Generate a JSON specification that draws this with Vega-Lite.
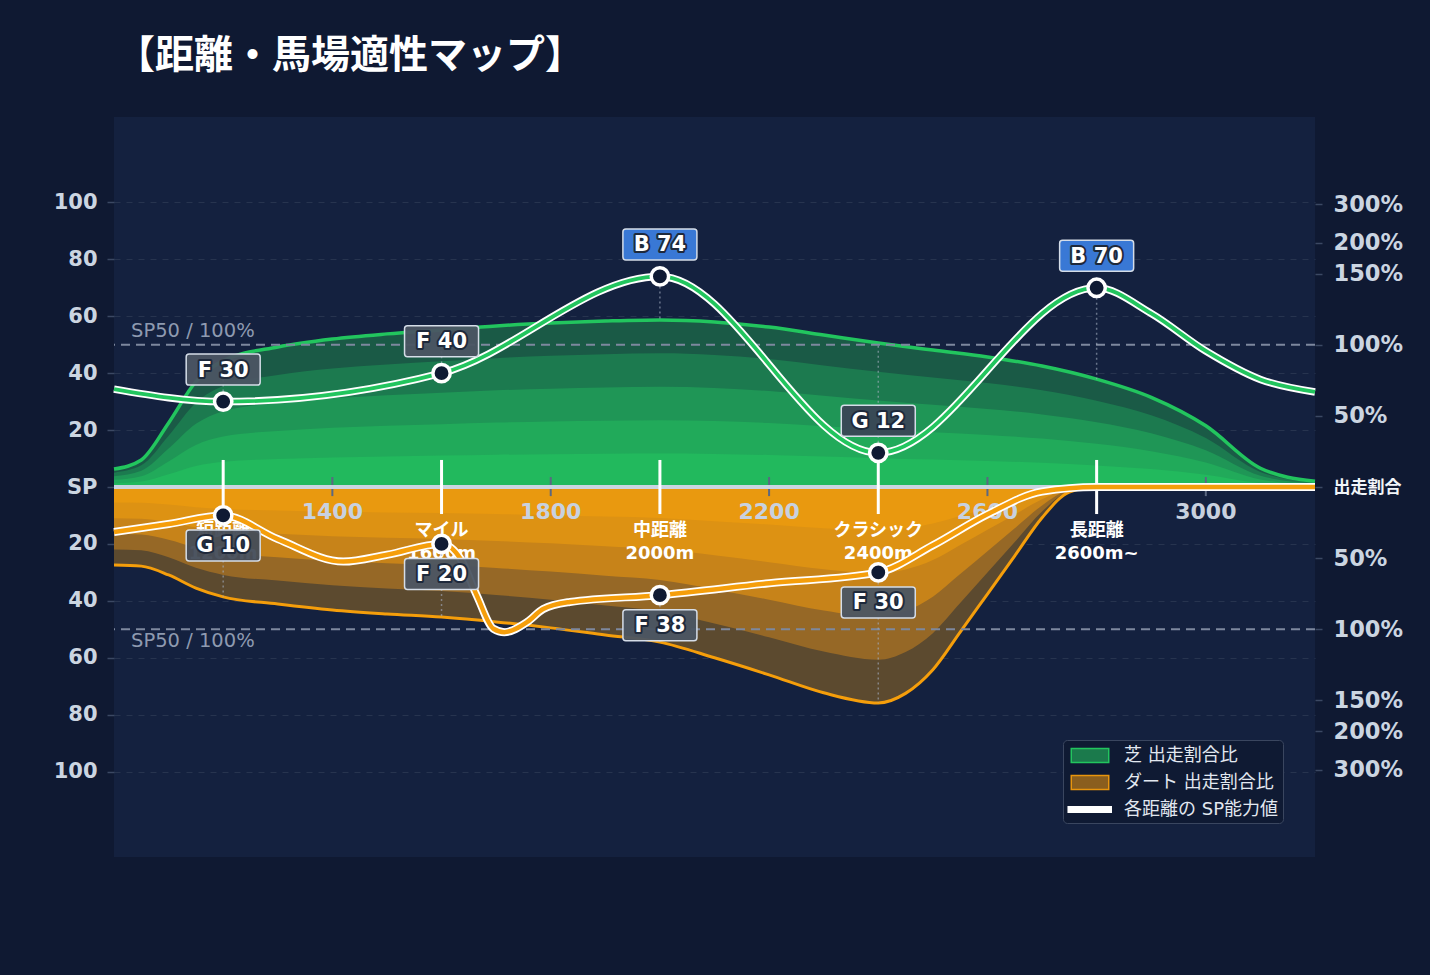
{
  "$schema": "https://vega.github.io/schema/vega-lite/v6.json",
  "width": 1201,
  "height": 740,
  "autosize": {"type": "none"},
  "padding": {"left": 114, "top": 117, "right": 115, "bottom": 118},
  "background": "#0f1932",
  "view": {"fill": "#14213f", "stroke": null},
  "config": {"view": {"stroke": null, "fill": "#14213f"}, "font": "DejaVu Sans"},
  "title": {
    "text": "【距離・馬場適性マップ】",
    "anchor": "start",
    "frame": "group",
    "font": "Noto Sans CJK JP",
    "fontSize": 39,
    "fontWeight": "bold",
    "color": "#ffffff",
    "offset": 41,
    "dx": 2
  },
  "datasets": {
    "turf": [
      {"dist": 1000, "t1": 1.26, "t2": 2.52, "t3": 3.78, "t4": 5.04, "t5": 6.3},
      {"dist": 1050, "t1": 1.9, "t2": 3.8, "t3": 5.7, "t4": 7.6, "t5": 9.5},
      {"dist": 1100, "t1": 4.5, "t2": 9, "t3": 13.5, "t4": 18, "t5": 22.5},
      {"dist": 1150, "t1": 7.4, "t2": 14.8, "t3": 22.2, "t4": 29.6, "t5": 37},
      {"dist": 1200, "t1": 8.88, "t2": 17.76, "t3": 26.64, "t4": 35.52, "t5": 44.4},
      {"dist": 1300, "t1": 9.84, "t2": 19.68, "t3": 29.52, "t4": 39.36, "t5": 49.2},
      {"dist": 1400, "t1": 10.4, "t2": 20.8, "t3": 31.2, "t4": 41.6, "t5": 52},
      {"dist": 1500, "t1": 10.76, "t2": 21.52, "t3": 32.28, "t4": 43.04, "t5": 53.8},
      {"dist": 1600, "t1": 11.04, "t2": 22.08, "t3": 33.12, "t4": 44.16, "t5": 55.2},
      {"dist": 1700, "t1": 11.32, "t2": 22.64, "t3": 33.96, "t4": 45.28, "t5": 56.6},
      {"dist": 1800, "t1": 11.52, "t2": 23.04, "t3": 34.56, "t4": 46.08, "t5": 57.6},
      {"dist": 1900, "t1": 11.66, "t2": 23.32, "t3": 34.98, "t4": 46.64, "t5": 58.3},
      {"dist": 2000, "t1": 11.74, "t2": 23.48, "t3": 35.22, "t4": 46.96, "t5": 58.7},
      {"dist": 2100, "t1": 11.6, "t2": 23.2, "t3": 34.8, "t4": 46.4, "t5": 58},
      {"dist": 2200, "t1": 11.24, "t2": 22.48, "t3": 33.72, "t4": 44.96, "t5": 56.2},
      {"dist": 2300, "t1": 10.68, "t2": 21.36, "t3": 32.04, "t4": 42.72, "t5": 53.4},
      {"dist": 2400, "t1": 10.12, "t2": 20.24, "t3": 30.36, "t4": 40.48, "t5": 50.6},
      {"dist": 2500, "t1": 9.62, "t2": 19.24, "t3": 28.86, "t4": 38.48, "t5": 48.1},
      {"dist": 2600, "t1": 9.14, "t2": 18.28, "t3": 27.42, "t4": 36.56, "t5": 45.7},
      {"dist": 2700, "t1": 8.5, "t2": 17, "t3": 25.5, "t4": 34, "t5": 42.5},
      {"dist": 2800, "t1": 7.58, "t2": 15.16, "t3": 22.74, "t4": 30.32, "t5": 37.9},
      {"dist": 2900, "t1": 6.3, "t2": 12.6, "t3": 18.9, "t4": 25.2, "t5": 31.5},
      {"dist": 3000, "t1": 4.3, "t2": 8.6, "t3": 12.9, "t4": 17.2, "t5": 21.5},
      {"dist": 3100, "t1": 1.32, "t2": 2.64, "t3": 3.96, "t4": 5.28, "t5": 6.6},
      {"dist": 3200, "t1": 0.4, "t2": 0.8, "t3": 1.2, "t4": 1.6, "t5": 2}
    ],
    "dirt": [
      {"dist": 1000, "d1": -5.48, "d2": -10.96, "d3": -16.44, "d4": -21.92, "d5": -27.4},
      {"dist": 1050, "d1": -5.56, "d2": -11.12, "d3": -16.68, "d4": -22.24, "d5": -27.8},
      {"dist": 1100, "d1": -6.18, "d2": -12.36, "d3": -18.54, "d4": -24.72, "d5": -30.9},
      {"dist": 1150, "d1": -7.1, "d2": -14.2, "d3": -21.3, "d4": -28.4, "d5": -35.5},
      {"dist": 1200, "d1": -7.72, "d2": -15.44, "d3": -23.16, "d4": -30.88, "d5": -38.6},
      {"dist": 1300, "d1": -8.22, "d2": -16.44, "d3": -24.66, "d4": -32.88, "d5": -41.1},
      {"dist": 1400, "d1": -8.64, "d2": -17.28, "d3": -25.92, "d4": -34.56, "d5": -43.2},
      {"dist": 1500, "d1": -8.92, "d2": -17.84, "d3": -26.76, "d4": -35.68, "d5": -44.6},
      {"dist": 1600, "d1": -9.14, "d2": -18.28, "d3": -27.42, "d4": -36.56, "d5": -45.7},
      {"dist": 1700, "d1": -9.48, "d2": -18.96, "d3": -28.44, "d4": -37.92, "d5": -47.4},
      {"dist": 1800, "d1": -9.9, "d2": -19.8, "d3": -29.7, "d4": -39.6, "d5": -49.5},
      {"dist": 1900, "d1": -10.4, "d2": -20.8, "d3": -31.2, "d4": -41.6, "d5": -52},
      {"dist": 2000, "d1": -10.9, "d2": -21.8, "d3": -32.7, "d4": -43.6, "d5": -54.5},
      {"dist": 2100, "d1": -12, "d2": -24, "d3": -36, "d4": -48, "d5": -60},
      {"dist": 2200, "d1": -13.2, "d2": -26.4, "d3": -39.6, "d4": -52.8, "d5": -66},
      {"dist": 2300, "d1": -14.46, "d2": -28.92, "d3": -43.38, "d4": -57.84, "d5": -72.3},
      {"dist": 2400, "d1": -15.18, "d2": -30.36, "d3": -45.54, "d4": -60.72, "d5": -75.9},
      {"dist": 2450, "d1": -14.5, "d2": -29, "d3": -43.5, "d4": -58, "d5": -72.5},
      {"dist": 2500, "d1": -12.84, "d2": -25.68, "d3": -38.52, "d4": -51.36, "d5": -64.2},
      {"dist": 2550, "d1": -10.2, "d2": -20.4, "d3": -30.6, "d4": -40.8, "d5": -51},
      {"dist": 2600, "d1": -7.52, "d2": -15.04, "d3": -22.56, "d4": -30.08, "d5": -37.6},
      {"dist": 2650, "d1": -4.84, "d2": -9.68, "d3": -14.52, "d4": -19.36, "d5": -24.2},
      {"dist": 2700, "d1": -2.16, "d2": -4.32, "d3": -6.48, "d4": -8.64, "d5": -10.8},
      {"dist": 2750, "d1": -0.36, "d2": -0.72, "d3": -1.08, "d4": -1.44, "d5": -1.8},
      {"dist": 2800, "d1": 0, "d2": 0, "d3": 0, "d4": 0, "d5": 0},
      {"dist": 2900, "d1": 0, "d2": 0, "d3": 0, "d4": 0, "d5": 0},
      {"dist": 3000, "d1": 0, "d2": 0, "d3": 0, "d4": 0, "d5": 0},
      {"dist": 3100, "d1": 0, "d2": 0, "d3": 0, "d4": 0, "d5": 0},
      {"dist": 3200, "d1": 0, "d2": 0, "d3": 0, "d4": 0, "d5": 0}
    ],
    "spT": [
      {"dist": 1000, "sp": 34.4},
      {"dist": 1200, "sp": 30},
      {"dist": 1600, "sp": 40},
      {"dist": 2000, "sp": 74},
      {"dist": 2400, "sp": 12},
      {"dist": 2800, "sp": 70},
      {"dist": 2900, "sp": 61},
      {"dist": 3000, "sp": 47.8},
      {"dist": 3100, "sp": 37.8},
      {"dist": 3200, "sp": 33.4}
    ],
    "spD": [
      {"dist": 1000, "sp": -15.8},
      {"dist": 1100, "sp": -13},
      {"dist": 1200, "sp": -10},
      {"dist": 1300, "sp": -18.3},
      {"dist": 1420, "sp": -26.2},
      {"dist": 1500, "sp": -23.8},
      {"dist": 1600, "sp": -20},
      {"dist": 1635, "sp": -25.3},
      {"dist": 1665, "sp": -38.3},
      {"dist": 1695, "sp": -49.8},
      {"dist": 1715, "sp": -51},
      {"dist": 1757, "sp": -47.4},
      {"dist": 1786, "sp": -42.9},
      {"dist": 1835, "sp": -40.4},
      {"dist": 2000, "sp": -38},
      {"dist": 2200, "sp": -33.8},
      {"dist": 2400, "sp": -30},
      {"dist": 2500, "sp": -20.5},
      {"dist": 2600, "sp": -9.6},
      {"dist": 2700, "sp": -1.6},
      {"dist": 2800, "sp": 0},
      {"dist": 3000, "sp": 0},
      {"dist": 3200, "sp": 0}
    ],
    "pts": [
      {"dist": 1200, "sp": 30, "env": 44.4, "lab": "F 30", "g": "F", "surf": "turf"},
      {"dist": 1600, "sp": 40, "env": 55.2, "lab": "F 40", "g": "F", "surf": "turf"},
      {"dist": 2000, "sp": 74, "env": 58.7, "lab": "B 74", "g": "B", "surf": "turf"},
      {"dist": 2400, "sp": 12, "env": 50.6, "lab": "G 12", "g": "G", "surf": "turf"},
      {"dist": 2800, "sp": 70, "env": 37.9, "lab": "B 70", "g": "B", "surf": "turf"},
      {"dist": 1200, "sp": -10, "env": -38.6, "lab": "G 10", "g": "G", "surf": "dirt"},
      {"dist": 1600, "sp": -20, "env": -45.7, "lab": "F 20", "g": "F", "surf": "dirt"},
      {"dist": 2000, "sp": -38, "env": -54.5, "lab": "F 38", "g": "F", "surf": "dirt"},
      {"dist": 2400, "sp": -30, "env": -75.9, "lab": "F 30", "g": "F", "surf": "dirt"}
    ],
    "cats": [
      {"dist": 1200, "name": "短距離\n1200m"},
      {"dist": 1600, "name": "マイル\n1600m"},
      {"dist": 2000, "name": "中距離\n2000m"},
      {"dist": 2400, "name": "クラシック\n2400m"},
      {"dist": 2800, "name": "長距離\n2600m~"}
    ],
    "xt": [
      {"dist": 1400}, {"dist": 1800}, {"dist": 2200}, {"dist": 2600}, {"dist": 3000}
    ]
  },
  "resolve": {"axis": {"y": "independent"}},
  "layer": [
    {
      "data": {"name": "turf"},
      "mark": {"type": "area", "interpolate": "monotone", "color": "#1a5a46"},
      "encoding": {
        "x": {
          "field": "dist", "type": "quantitative",
          "scale": {"domain": [1000, 3200], "nice": false, "zero": false},
          "axis": {
            "values": [1200, 1600, 2000, 2400, 2800],
            "labels": false, "ticks": false, "domain": false, "title": null,
            "grid": true, "gridColor": "#3a4867", "gridDash": [7, 6], "gridWidth": 1.5
          }
        },
        "y": {
          "field": "t5", "type": "quantitative", "stack": null,
          "scale": {"domain": [-130, 130], "nice": false, "zero": false},
          "axis": {
            "orient": "left",
            "values": [-100, -80, -60, -40, -20, 0, 20, 40, 60, 80, 100],
            "labelExpr": "datum.value == 0 ? 'SP' : format(abs(datum.value), 'd')",
            "title": null, "domain": false,
            "tickSize": 7, "tickColor": "#3b4863", "tickWidth": 1.5,
            "labelPadding": 10, "labelFont": "DejaVu Sans", "labelFontSize": 21,
            "labelFontWeight": "bold", "labelColor": "#cbd5e1",
            "grid": true, "gridColor": "#27344f", "gridDash": [6, 6], "gridWidth": 1.2
          }
        }
      }
    },
    {
      "data": {"name": "turf"},
      "mark": {"type": "area", "interpolate": "monotone", "color": "#1c7a4f"},
      "encoding": {
        "x": {"field": "dist", "type": "quantitative", "axis": null},
        "y": {"field": "t4", "type": "quantitative", "stack": null, "axis": null}
      }
    },
    {
      "data": {"name": "turf"},
      "mark": {"type": "area", "interpolate": "monotone", "color": "#1f9656"},
      "encoding": {
        "x": {"field": "dist", "type": "quantitative", "axis": null},
        "y": {"field": "t3", "type": "quantitative", "stack": null, "axis": null}
      }
    },
    {
      "data": {"name": "turf"},
      "mark": {"type": "area", "interpolate": "monotone", "color": "#21aa5a"},
      "encoding": {
        "x": {"field": "dist", "type": "quantitative", "axis": null},
        "y": {"field": "t2", "type": "quantitative", "stack": null, "axis": null}
      }
    },
    {
      "data": {"name": "turf"},
      "mark": {"type": "area", "interpolate": "monotone", "color": "#22b95d"},
      "encoding": {
        "x": {"field": "dist", "type": "quantitative", "axis": null},
        "y": {"field": "t1", "type": "quantitative", "stack": null, "axis": null}
      }
    },
    {
      "data": {"name": "dirt"},
      "mark": {"type": "area", "interpolate": "monotone", "color": "#5c4a2f"},
      "encoding": {
        "x": {"field": "dist", "type": "quantitative", "axis": null},
        "y": {"field": "d5", "type": "quantitative", "stack": null, "axis": null}
      }
    },
    {
      "data": {"name": "dirt"},
      "mark": {"type": "area", "interpolate": "monotone", "color": "#966826"},
      "encoding": {
        "x": {"field": "dist", "type": "quantitative", "axis": null},
        "y": {"field": "d4", "type": "quantitative", "stack": null, "axis": null}
      }
    },
    {
      "data": {"name": "dirt"},
      "mark": {"type": "area", "interpolate": "monotone", "color": "#c78319"},
      "encoding": {
        "x": {"field": "dist", "type": "quantitative", "axis": null},
        "y": {"field": "d3", "type": "quantitative", "stack": null, "axis": null}
      }
    },
    {
      "data": {"name": "dirt"},
      "mark": {"type": "area", "interpolate": "monotone", "color": "#dd9213"},
      "encoding": {
        "x": {"field": "dist", "type": "quantitative", "axis": null},
        "y": {"field": "d2", "type": "quantitative", "stack": null, "axis": null}
      }
    },
    {
      "data": {"name": "dirt"},
      "mark": {"type": "area", "interpolate": "monotone", "color": "#e9990f"},
      "encoding": {
        "x": {"field": "dist", "type": "quantitative", "axis": null},
        "y": {"field": "d1", "type": "quantitative", "stack": null, "axis": null}
      }
    },
    {
      "data": {"name": "turf"},
      "mark": {"type": "line", "interpolate": "monotone", "color": "#22c55e", "strokeWidth": 3.5},
      "encoding": {
        "x": {"field": "dist", "type": "quantitative", "axis": null},
        "y": {"field": "t5", "type": "quantitative", "axis": null}
      }
    },
    {
      "data": {"name": "dirt"},
      "mark": {"type": "line", "interpolate": "monotone", "color": "#f59e0b", "strokeWidth": 3},
      "encoding": {
        "x": {"field": "dist", "type": "quantitative", "axis": null},
        "y": {"field": "d5", "type": "quantitative", "axis": null}
      }
    },
    {
      "data": {"name": "xt"},
      "mark": {"type": "rule", "color": "#5b6882", "strokeWidth": 2},
      "encoding": {
        "x": {"field": "dist", "type": "quantitative", "axis": null},
        "y": {"datum": 3.5, "type": "quantitative", "axis": null},
        "y2": {"datum": -3.2}
      }
    },
    {
      "data": {"values": [{"v": 0}]},
      "mark": {"type": "rule", "color": "#cbd5e1", "strokeWidth": 4},
      "encoding": {
        "y": {
          "field": "v", "type": "quantitative",
          "axis": {
            "orient": "right",
            "values": [-99.3, -85.8, -75, -50, -25, 0, 25, 50, 75, 85.8, 99.3],
            "labelExpr": "abs(datum.value) < 1 ? '出走割合' : abs(datum.value) < 30 ? '50%' : abs(datum.value) < 60 ? '100%' : abs(datum.value) < 80 ? '150%' : abs(datum.value) < 90 ? '200%' : '300%'",
            "title": null, "domain": false, "grid": false,
            "tickSize": 7, "tickColor": "#3b4863", "tickWidth": 1.5,
            "labelPadding": 11, "labelFont": "DejaVu Sans, Noto Sans CJK JP",
            "labelFontSize": {"condition": {"test": "abs(datum.value) < 1", "value": 17}, "value": 22.5},
            "labelFontWeight": "bold",
            "labelColor": {"condition": {"test": "abs(datum.value) < 1", "value": "#f1f5f9"}, "value": "#cbd5e1"}
          }
        }
      }
    },
    {
      "data": {"values": [{"v": 50}, {"v": -50}]},
      "mark": {"type": "rule", "color": "#7d889e", "strokeWidth": 2, "strokeDash": [9, 6]},
      "encoding": {
        "y": {"field": "v", "type": "quantitative", "axis": null}
      }
    },
    {
      "data": {"values": [{"v": 50, "t": "SP50 / 100%"}]},
      "mark": {"type": "text", "align": "left", "baseline": "middle", "dx": 17, "dy": -14, "fontSize": 19.5, "color": "#8e9ab0"},
      "encoding": {
        "x": {"datum": 1000, "type": "quantitative", "axis": null},
        "y": {"field": "v", "type": "quantitative", "axis": null},
        "text": {"field": "t"}
      }
    },
    {
      "data": {"values": [{"v": -50, "t": "SP50 / 100%"}]},
      "mark": {"type": "text", "align": "left", "baseline": "middle", "dx": 17, "dy": 12, "fontSize": 19.5, "color": "#8e9ab0"},
      "encoding": {
        "x": {"datum": 1000, "type": "quantitative", "axis": null},
        "y": {"field": "v", "type": "quantitative", "axis": null},
        "text": {"field": "t"}
      }
    },
    {
      "data": {"name": "cats"},
      "mark": {"type": "rule", "color": "#ffffff", "strokeWidth": 3},
      "encoding": {
        "x": {"field": "dist", "type": "quantitative", "axis": null},
        "y": {"datum": 9.5, "type": "quantitative", "axis": null},
        "y2": {"datum": -9.5}
      }
    },
    {
      "data": {"name": "xt"},
      "mark": {"type": "text", "align": "center", "baseline": "middle", "fontSize": 22, "fontWeight": "bold", "color": "#c8d1df"},
      "encoding": {
        "x": {"field": "dist", "type": "quantitative", "axis": null},
        "y": {"datum": -8.9, "type": "quantitative", "axis": null},
        "text": {"field": "dist", "type": "quantitative", "format": "d"}
      }
    },
    {
      "data": {"name": "cats"},
      "mark": {"type": "text", "align": "center", "baseline": "top", "lineBreak": "\n", "lineHeight": 23, "font": "DejaVu Sans, Noto Sans CJK JP", "fontSize": 18, "fontWeight": "bold", "color": "#ffffff"},
      "encoding": {
        "x": {"field": "dist", "type": "quantitative", "axis": null},
        "y": {"datum": -12.2, "type": "quantitative", "axis": null},
        "text": {"field": "name"}
      }
    },
    {
      "data": {"name": "pts"},
      "mark": {"type": "rule", "color": "#a3aec0", "opacity": 0.6, "strokeWidth": 1.5, "strokeDash": [2, 3]},
      "encoding": {
        "x": {"field": "dist", "type": "quantitative", "axis": null},
        "y": {"field": "sp", "type": "quantitative", "axis": null},
        "y2": {"field": "env"}
      }
    },
    {
      "data": {"name": "spT"},
      "mark": {"type": "line", "interpolate": "monotone", "color": "#ffffff", "strokeWidth": 7.5},
      "encoding": {
        "x": {"field": "dist", "type": "quantitative", "axis": null},
        "y": {"field": "sp", "type": "quantitative", "axis": null}
      }
    },
    {
      "data": {"name": "spT"},
      "mark": {"type": "line", "interpolate": "monotone", "color": "#22c55e", "strokeWidth": 3.8},
      "encoding": {
        "x": {"field": "dist", "type": "quantitative", "axis": null},
        "y": {"field": "sp", "type": "quantitative", "axis": null}
      }
    },
    {
      "data": {"name": "spD"},
      "mark": {"type": "line", "interpolate": "monotone", "color": "#ffffff", "strokeWidth": 8},
      "encoding": {
        "x": {"field": "dist", "type": "quantitative", "axis": null},
        "y": {"field": "sp", "type": "quantitative", "axis": null}
      }
    },
    {
      "data": {"name": "spD"},
      "mark": {"type": "line", "interpolate": "monotone", "color": "#f59e0b", "strokeWidth": 4.5},
      "encoding": {
        "x": {"field": "dist", "type": "quantitative", "axis": null},
        "y": {"field": "sp", "type": "quantitative", "axis": null}
      }
    },
    {
      "data": {"name": "pts"},
      "mark": {"type": "point", "shape": "circle", "filled": true, "fill": "#0f1a33", "stroke": "#ffffff", "strokeWidth": 3.5, "size": 300, "opacity": 1},
      "encoding": {
        "x": {"field": "dist", "type": "quantitative", "axis": null},
        "y": {"field": "sp", "type": "quantitative", "axis": null}
      }
    },
    {
      "data": {"name": "pts"},
      "transform": [{"filter": "datum.surf == 'turf'"}],
      "mark": {"type": "point", "shape": "M-0.92,-0.419H0.92A0.08,0.08 0 0 1 1,-0.339V0.339A0.08,0.08 0 0 1 0.92,0.419H-0.92A0.08,0.08 0 0 1 -1,0.339V-0.339A0.08,0.08 0 0 1 -0.92,-0.419Z", "filled": true, "size": 5476, "stroke": "#d5dde8", "strokeWidth": 1.5, "yOffset": -32, "opacity": 1, "fillOpacity": 0.95},
      "encoding": {
        "x": {"field": "dist", "type": "quantitative", "axis": null},
        "y": {"field": "sp", "type": "quantitative", "axis": null},
        "fill": {"condition": [{"test": "datum.g == 'B'", "value": "#3b7ddd"}, {"test": "datum.g == 'G'", "value": "#3a4656"}], "value": "#4b5563"}
      }
    },
    {
      "data": {"name": "pts"},
      "transform": [{"filter": "datum.surf == 'dirt'"}],
      "mark": {"type": "point", "shape": "M-0.92,-0.419H0.92A0.08,0.08 0 0 1 1,-0.339V0.339A0.08,0.08 0 0 1 0.92,0.419H-0.92A0.08,0.08 0 0 1 -1,0.339V-0.339A0.08,0.08 0 0 1 -0.92,-0.419Z", "filled": true, "size": 5476, "stroke": "#d5dde8", "strokeWidth": 1.5, "yOffset": 30, "opacity": 1, "fillOpacity": 0.95},
      "encoding": {
        "x": {"field": "dist", "type": "quantitative", "axis": null},
        "y": {"field": "sp", "type": "quantitative", "axis": null},
        "fill": {"condition": [{"test": "datum.g == 'B'", "value": "#3b7ddd"}, {"test": "datum.g == 'G'", "value": "#434c59"}], "value": "#4b5563"}
      }
    },
    {
      "data": {"name": "pts"},
      "transform": [{"filter": "datum.surf == 'turf'"}],
      "mark": {"type": "text", "align": "center", "baseline": "middle", "dy": -31, "fontSize": 21, "fontWeight": "bold", "fill": "#1e293b", "stroke": "#1e293b", "strokeWidth": 4, "strokeJoin": "round"},
      "encoding": {
        "x": {"field": "dist", "type": "quantitative", "axis": null},
        "y": {"field": "sp", "type": "quantitative", "axis": null},
        "text": {"field": "lab"}
      }
    },
    {
      "data": {"name": "pts"},
      "transform": [{"filter": "datum.surf == 'turf'"}],
      "mark": {"type": "text", "align": "center", "baseline": "middle", "dy": -31, "fontSize": 21, "fontWeight": "bold", "fill": "#ffffff"},
      "encoding": {
        "x": {"field": "dist", "type": "quantitative", "axis": null},
        "y": {"field": "sp", "type": "quantitative", "axis": null},
        "text": {"field": "lab"}
      }
    },
    {
      "data": {"name": "pts"},
      "transform": [{"filter": "datum.surf == 'dirt'"}],
      "mark": {"type": "text", "align": "center", "baseline": "middle", "dy": 31, "fontSize": 21, "fontWeight": "bold", "fill": "#1e293b", "stroke": "#1e293b", "strokeWidth": 4, "strokeJoin": "round"},
      "encoding": {
        "x": {"field": "dist", "type": "quantitative", "axis": null},
        "y": {"field": "sp", "type": "quantitative", "axis": null},
        "text": {"field": "lab"}
      }
    },
    {
      "data": {"name": "pts"},
      "transform": [{"filter": "datum.surf == 'dirt'"}],
      "mark": {"type": "text", "align": "center", "baseline": "middle", "dy": 31, "fontSize": 21, "fontWeight": "bold", "fill": "#ffffff"},
      "encoding": {
        "x": {"field": "dist", "type": "quantitative", "axis": null},
        "y": {"field": "sp", "type": "quantitative", "axis": null},
        "text": {"field": "lab"}
      }
    },
    {
      "data": {"values": [{"k": "芝 出走割合比"}, {"k": "ダート 出走割合比"}, {"k": "各距離の SP能力値"}]},
      "transform": [{"filter": "datum.k == 'none'"}],
      "mark": {"type": "point", "filled": true, "opacity": 1},
      "encoding": {
        "fill": {
          "field": "k", "type": "nominal",
          "scale": {"domain": ["芝 出走割合比", "ダート 出走割合比", "各距離の SP能力値"], "range": ["#1b7a4c", "#8a5e1e", "#ffffff"]},
          "legend": {
            "title": null, "orient": "none", "legendX": 949, "legendY": 623,
            "padding": 4, "rowPadding": 5, "fillColor": "#0f1a33", "strokeColor": "#3a465f", "cornerRadius": 4,
            "labelFont": "DejaVu Sans, Noto Sans CJK JP", "labelFontSize": 18, "labelColor": "#e2e8f0",
            "labelExpr": "datum.label + '\u00a0\u00a0'",
            "labelOffset": 34, "symbolSize": 441, "symbolStrokeWidth": 1.5
          }
        },
        "stroke": {
          "field": "k", "type": "nominal",
          "scale": {"domain": ["芝 出走割合比", "ダート 出走割合比", "各距離の SP能力値"], "range": ["#22c55e", "#e8950d", "#ffffff"]},
          "legend": {
            "title": null, "orient": "none", "legendX": 949, "legendY": 623,
            "padding": 4, "rowPadding": 5, "fillColor": "#0f1a33", "strokeColor": "#3a465f", "cornerRadius": 4,
            "labelFont": "DejaVu Sans, Noto Sans CJK JP", "labelFontSize": 18, "labelColor": "#e2e8f0",
            "labelExpr": "datum.label + '\u00a0\u00a0'",
            "labelOffset": 34, "symbolSize": 441, "symbolStrokeWidth": 1.5
          }
        },
        "shape": {
          "field": "k", "type": "nominal",
          "scale": {"domain": ["芝 出走割合比", "ダート 出走割合比", "各距離の SP能力値"], "range": ["M-0.69,-0.667H2.88V0.667H-0.69Z", "M-0.69,-0.667H2.88V0.667H-0.69Z", "M-0.98,-0.26H3.12V0.26H-0.98Z"]},
          "legend": {
            "title": null, "orient": "none", "legendX": 949, "legendY": 623,
            "padding": 4, "rowPadding": 5, "fillColor": "#0f1a33", "strokeColor": "#3a465f", "cornerRadius": 4,
            "labelFont": "DejaVu Sans, Noto Sans CJK JP", "labelFontSize": 18, "labelColor": "#e2e8f0",
            "labelExpr": "datum.label + '\u00a0\u00a0'",
            "labelOffset": 34, "symbolSize": 441, "symbolStrokeWidth": 1.5
          }
        }
      }
    }
  ]
}
